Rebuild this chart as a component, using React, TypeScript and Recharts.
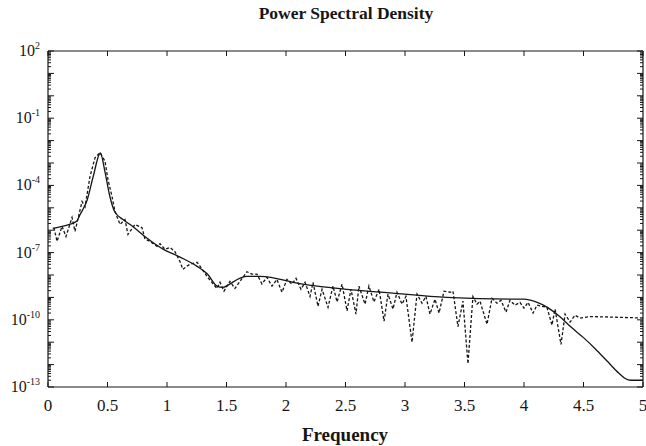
import React from 'react';
import { LineChart, Line, XAxis, YAxis } from 'recharts';

// smooth model spectrum (solid line)
const solidFreq = [
  0.04, 0.1, 0.18, 0.24, 0.27, 0.33, 0.38, 0.44, 0.48, 0.52, 0.56, 0.63, 0.71,
  0.83, 0.97, 1.11, 1.25, 1.34, 1.42, 1.47, 1.53, 1.59, 1.67, 1.78, 2.14, 2.51,
  2.87, 3.35, 3.88, 4.0, 4.1, 4.2, 4.3, 4.4, 4.5, 4.6, 4.7, 4.8, 4.85, 4.9, 5.0,
];
const solidPsd = [
  1.2e-6, 1.4e-6, 1.8e-6, 2.5e-6, 5.0e-6, 2.3e-5, 2.5e-4, 2.8e-3, 3.7e-4, 3.2e-5,
  6.8e-6, 3.0e-6, 1.5e-6, 4.5e-7, 1.4e-7, 6.3e-8, 2.5e-8, 1.1e-8, 3.2e-9, 2.8e-9,
  4.0e-9, 6.3e-9, 8.7e-9, 8.7e-9, 3.9e-9, 2.3e-9, 1.6e-9, 1.0e-9, 8.3e-10, 8.3e-10,
  6.3e-10, 3.5e-10, 1.4e-10, 4.5e-11, 1.6e-11, 5.0e-12, 1.4e-12, 4.0e-13, 2.4e-13,
  2.0e-13, 2.0e-13,
];

// periodogram estimate (dotted line)
const dottedFreq = [
  0.05, 0.076, 0.118, 0.151, 0.202, 0.227, 0.286, 0.311, 0.353, 0.395, 0.437,
  0.479, 0.504, 0.538, 0.563, 0.605, 0.647, 0.672, 0.731, 0.79, 0.815, 0.857,
  0.916, 0.941, 0.983, 1.025, 1.067, 1.109, 1.134, 1.168, 1.193, 1.252, 1.277,
  1.336, 1.387, 1.42, 1.445, 1.479, 1.504, 1.529, 1.571, 1.613, 1.672, 1.714,
  1.756, 1.798, 1.84, 1.882, 1.924, 1.966, 2.008, 2.05, 2.084, 2.126, 2.16,
  2.202, 2.227, 2.269, 2.303, 2.353, 2.395, 2.429, 2.471, 2.513, 2.546, 2.588,
  2.613, 2.664, 2.697, 2.739, 2.782, 2.824, 2.857, 2.899, 2.933, 2.975, 3.008,
  3.059, 3.101, 3.143, 3.176, 3.21, 3.252, 3.286, 3.328, 3.378, 3.403, 3.445,
  3.487, 3.529, 3.571, 3.605, 3.63, 3.689, 3.731, 3.773, 3.807, 3.849, 3.882,
  3.924, 3.966, 4.0, 4.034, 4.076, 4.109, 4.193, 4.235, 4.261, 4.311, 4.345,
  4.387, 4.429, 4.471, 4.555, 4.782, 5.0,
];
const dottedPsd = [
  1.3e-6, 3.2e-7, 1.5e-6, 5.2e-7, 3.7e-6, 8.9e-7, 1.9e-5, 1.1e-5, 2.5e-4, 1.7e-3,
  2.9e-3, 1.2e-3, 1.8e-4, 3.2e-5, 6.8e-6, 1.8e-6, 3.0e-6, 6.5e-7, 1.8e-6, 1.3e-6,
  4.0e-7, 3.2e-7, 1.9e-7, 2.5e-7, 1.4e-7, 1.7e-7, 1.1e-7, 4.0e-8, 1.8e-8, 2.5e-8,
  3.0e-8, 3.7e-8, 2.5e-8, 8.7e-9, 4.0e-9, 2.5e-9, 4.7e-9, 1.9e-9, 3.2e-9, 5.2e-9,
  2.5e-9, 5.2e-9, 1.4e-8, 1.1e-8, 1.1e-8, 4.0e-9, 7.9e-9, 3.2e-9, 6.3e-9, 1.7e-9,
  6.3e-9, 3.9e-9, 7.1e-9, 2.3e-9, 4.7e-9, 1.1e-9, 4.7e-9, 4.0e-10, 2.3e-9, 3.6e-10,
  3.2e-9, 6.3e-10, 3.9e-9, 2.5e-10, 2.3e-9, 1.8e-10, 3.2e-9, 5.0e-10, 3.2e-9,
  6.3e-10, 2.3e-9, 8.7e-11, 1.4e-9, 3.0e-10, 1.7e-9, 5.0e-10, 1.1e-9, 1.0e-11,
  1.4e-9, 5.5e-10, 1.1e-9, 1.8e-10, 8.3e-10, 2.0e-10, 1.9e-9, 1.7e-9, 1.9e-9,
  5.0e-11, 6.8e-10, 1.1e-12, 1.1e-9, 5.0e-10, 6.8e-10, 6.3e-11, 9.1e-10, 5.5e-10,
  7.4e-10, 2.2e-10, 7.4e-10, 4.5e-10, 6.0e-10, 3.3e-10, 6.0e-10, 2.0e-10, 4.5e-10,
  3.6e-10, 5.8e-11, 3.0e-10, 7.9e-12, 1.8e-10, 7.9e-11, 1.6e-10, 1.2e-10, 1.4e-10,
  1.3e-10, 1.2e-10,
];

const xTicks = [0, 0.5, 1, 1.5, 2, 2.5, 3, 3.5, 4, 4.5, 5];
const yLabelExps = [2, -1, -4, -7, -10, -13];

const solidData = solidFreq.map((f, i) => ({ f, psd: solidPsd[i] }));
const dottedData = dottedFreq.map((f, i) => ({ f, psd: dottedPsd[i] }));

// decade ticks plus 2..9 minor ticks for the log axis
const yTicks: number[] = [];
for (let e = -13; e <= 2; e++) {
  yTicks.push(Math.pow(10, e));
  if (e < 2) for (let k = 2; k <= 9; k++) yTicks.push(k * Math.pow(10, e));
}

const ink = '#161616';
const serif = '"Liberation Serif", "DejaVu Serif", serif';

const decadeOf = (v: number) => {
  const e = Math.log10(v);
  const r = Math.round(e);
  return Math.abs(e - r) < 1e-6 ? r : null;
};

const LeftTick = (props: any) => {
  const { x, y, payload } = props;
  const exp = decadeOf(payload.value);
  const len = exp !== null ? 6 : 3;
  return (
    <g>
      <line x1={x} x2={x + len} y1={y} y2={y} stroke={ink} strokeWidth={1} />
      {exp !== null && yLabelExps.includes(exp) && (
        <text x={x - 8} y={y + 5} textAnchor="end" fontSize={16} fontFamily={serif} fill={ink}>
          10
          <tspan dy={-7} fontSize={10}>{exp}</tspan>
        </text>
      )}
    </g>
  );
};

const RightTick = (props: any) => {
  const { x, y, payload } = props;
  const len = decadeOf(payload.value) !== null ? 6 : 3;
  return <line x1={x} x2={x - len} y1={y} y2={y} stroke={ink} strokeWidth={1} />;
};

const BottomTick = (props: any) => {
  const { x, y, payload } = props;
  return (
    <g>
      <line x1={x} x2={x} y1={y} y2={y - 5} stroke={ink} strokeWidth={1} />
      <text x={x} y={y + 24} textAnchor="middle" fontSize={17} fontFamily={serif} fill={ink}>
        {payload.value}
      </text>
    </g>
  );
};

const TopTick = (props: any) => {
  const { x, y } = props;
  return <line x1={x} x2={x} y1={y} y2={y + 5} stroke={ink} strokeWidth={1} />;
};

export default function App() {
  return (
    <div style={{ position: 'absolute', left: 0, top: 0, width: 646, height: 446, background: '#fff' }}>
      <div
        style={{
          position: 'absolute',
          left: 346,
          top: 3,
          transform: 'translateX(-50%)',
          fontFamily: serif,
          fontSize: 17.5,
          fontWeight: 'bold',
          color: ink,
          whiteSpace: 'nowrap',
        }}
      >
        Power Spectral Density
      </div>
      <LineChart
        width={646}
        height={446}
        margin={{ top: 50, right: 0, bottom: 29, left: 8 }}
      >
        <XAxis
          xAxisId="bottom"
          dataKey="f"
          type="number"
          domain={[0, 5]}
          ticks={xTicks}
          interval={0}
          allowDataOverflow
          height={30}
          tickSize={0}
          tickMargin={0}
          tickLine={false}
          axisLine={{ stroke: ink, strokeWidth: 1.2 }}
          tick={<BottomTick />}
        />
        <XAxis
          xAxisId="top"
          orientation="top"
          dataKey="f"
          type="number"
          domain={[0, 5]}
          ticks={xTicks}
          interval={0}
          allowDataOverflow
          height={1}
          tickSize={0}
          tickMargin={0}
          tickLine={false}
          axisLine={{ stroke: ink, strokeWidth: 1.2 }}
          tick={<TopTick />}
        />
        <YAxis
          yAxisId="left"
          type="number"
          scale="log"
          domain={[1e-13, 100]}
          ticks={yTicks}
          interval={0}
          allowDataOverflow
          width={40}
          tickSize={0}
          tickMargin={0}
          tickLine={false}
          axisLine={{ stroke: ink, strokeWidth: 1.2 }}
          tick={<LeftTick />}
        />
        <YAxis
          yAxisId="right"
          orientation="right"
          type="number"
          scale="log"
          domain={[1e-13, 100]}
          ticks={yTicks}
          interval={0}
          allowDataOverflow
          width={3}
          tickSize={0}
          tickMargin={0}
          tickLine={false}
          axisLine={{ stroke: ink, strokeWidth: 1.2 }}
          tick={<RightTick />}
        />
        <Line
          xAxisId="bottom"
          yAxisId="left"
          data={dottedData}
          dataKey="psd"
          type="linear"
          stroke={ink}
          strokeWidth={1.3}
          strokeDasharray="3 2"
          dot={false}
          isAnimationActive={false}
        />
        <Line
          xAxisId="bottom"
          yAxisId="left"
          data={solidData}
          dataKey="psd"
          type="monotone"
          stroke={ink}
          strokeWidth={1.3}
          dot={false}
          isAnimationActive={false}
        />
      </LineChart>
      <div
        style={{
          position: 'absolute',
          left: 345,
          top: 424,
          transform: 'translateX(-50%)',
          fontFamily: serif,
          fontSize: 19,
          fontWeight: 'bold',
          color: ink,
          whiteSpace: 'nowrap',
        }}
      >
        Frequency
      </div>
    </div>
  );
}
